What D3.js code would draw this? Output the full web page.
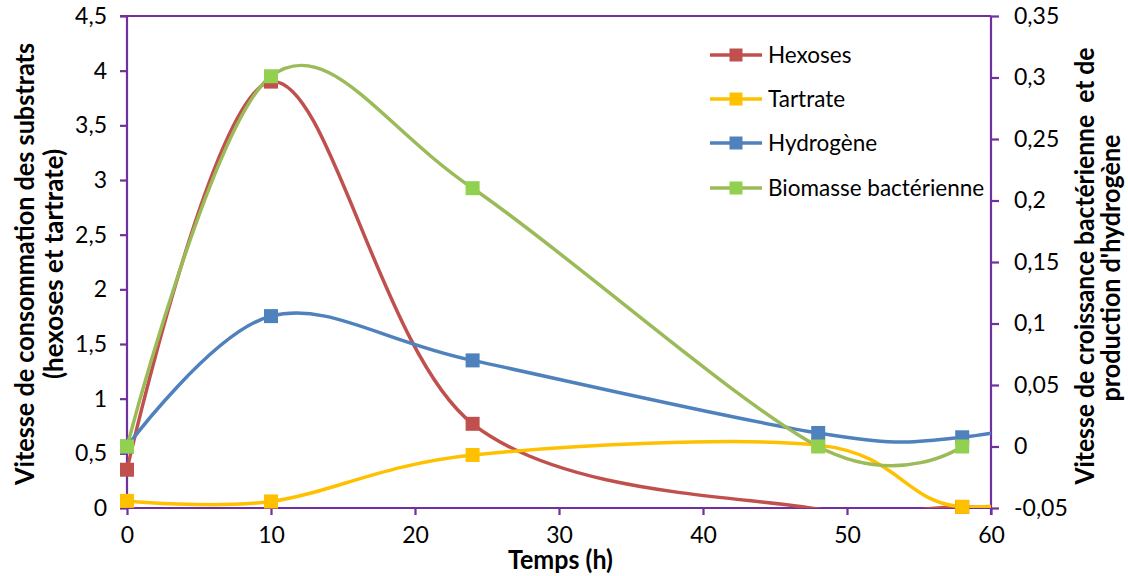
<!DOCTYPE html>
<html><head><meta charset="utf-8">
<script src="https://cdn.jsdelivr.net/npm/d3@7/dist/d3.min.js"></script>
<style>
html,body{margin:0;padding:0;background:#fff;}
svg{display:block;font-family:Lato,"Open Sans",sans-serif;}
</style></head>
<body><svg id="chart" width="1128" height="576"></svg>
<script>
// ---- data ----
const timeH = [0, 10, 24, 48, 58, 72];
const hexoses = [0.35, 3.9, 0.77, -0.01, 0.01, -0.05];
const tartrate = [0.065, 0.06, 0.485, 0.575, 0.01, 0.35];
const hydrogene = [0.0, 0.106, 0.070, 0.011, 0.0075, 0.04];
const timeBio = [0, 10, 24, 48, 58];
const biomasse = [0.0, 0.301, 0.210, 0.0, 0.0];
const seriesNames = ["Hexoses", "Tartrate", "Hydrogène", "Biomasse bactérienne"];
const xTicks = [0, 10, 20, 30, 40, 50, 60];
const yLeftTicks = [0, 0.5, 1, 1.5, 2, 2.5, 3, 3.5, 4, 4.5];
const yRightTicks = [-0.05, 0, 0.05, 0.1, 0.15, 0.2, 0.25, 0.3, 0.35];
const xTitle = "Temps (h)";
const yLeftTitle = ["Vitesse de consommation des substrats", "(hexoses et tartrate)"];
const yRightTitle = ["Vitesse de croissance bactérienne  et de", "production d'hydrogène"];

const svg = d3.select("#chart");
const L = 127, R = 991, T = 16, B = 508;
const axisColor = "#7030A0";
const x = d3.scaleLinear().domain([0, 60]).range([L, R]);
const yL = d3.scaleLinear().domain([0, 4.5]).range([B, T]);
const yR = d3.scaleLinear().domain([-0.05, 0.35]).range([B, T]);

const loc = d3.formatLocale({decimal: ",", thousands: " ", grouping: [3], currency: ["", ""], minus: "-"});
const fmt = loc.format(".2~f");

const series = [
  {name: seriesNames[0], xs: timeH, ys: hexoses, y: yL, line: "#C0504D", mark: "#C0504D"},
  {name: seriesNames[1], xs: timeH, ys: tartrate, y: yL, line: "#FFC000", mark: "#FFC000"},
  {name: seriesNames[2], xs: timeH, ys: hydrogene, y: yR, line: "#4F81BD", mark: "#4F81BD"},
  {name: seriesNames[3], xs: timeBio, ys: biomasse, y: yR, line: "#9BBB59", mark: "#92D050"}
];

svg.append("defs").append("clipPath").attr("id", "plotclip")
  .append("rect").attr("x", L).attr("y", T).attr("width", R - L).attr("height", B - T);

// top border
svg.append("line").attr("x1", L - 7).attr("x2", R).attr("y1", T).attr("y2", T)
  .attr("stroke", axisColor).attr("stroke-width", 2);

const fsTick = 23, fsLeg = 22.5, fsTitle = 26.5;
const gL = svg.append("g").attr("transform", `translate(${L},0)`)
  .call(d3.axisLeft(yL).tickValues(yLeftTicks).tickFormat(fmt).tickSize(7).tickPadding(13));
const gR = svg.append("g").attr("transform", `translate(${R},0)`)
  .call(d3.axisRight(yR).tickValues(yRightTicks).tickFormat(fmt).tickSize(8).tickPadding(15));
const gB = svg.append("g").attr("transform", `translate(0,${B})`)
  .call(d3.axisBottom(x).tickValues(xTicks).tickFormat(fmt).tickSize(7).tickPadding(12));
[gL, gR, gB].forEach(g => {
  g.select(".domain").attr("stroke", axisColor).attr("stroke-width", 2.2);
  g.selectAll(".tick line").attr("stroke", axisColor).attr("stroke-width", 2.2);
  g.selectAll(".tick text").attr("fill", "#000").attr("font-size", fsTick).attr("font-family", "Lato");
});
gL.select(".domain").attr("d", `M-7,${T}H0V${B}`);
gR.select(".domain").attr("d", `M0,${T}V${B + 7}`);
gB.select(".domain").attr("d", `M${L},0H${R}`);

// series
const plot = svg.append("g").attr("clip-path", "url(#plotclip)");
series.forEach(s => {
  const pts = s.xs.map((t, i) => [t, s.ys[i]]);
  const line = d3.line().x(d => x(d[0])).y(d => s.y(d[1])).curve(d3.curveCardinal.tension(0));
  plot.append("path").attr("d", line(pts)).attr("fill", "none")
    .attr("stroke", s.line).attr("stroke-width", 3.5).attr("stroke-linejoin", "round");
  const yd = s.y.domain(), xd = x.domain();
  const vis = pts.filter(d => d[0] >= xd[0] && d[0] <= xd[1] && d[1] >= yd[0] && d[1] <= yd[1]);
  const m = 14;
  svg.append("g").selectAll("rect").data(vis).join("rect")
    .attr("x", d => x(d[0]) - m / 2).attr("y", d => s.y(d[1]) - m / 2)
    .attr("width", m).attr("height", m).attr("fill", s.mark);
});

// legend
const legRows = [55, 99, 143, 188];
const lg = svg.append("g");
series.forEach((s, i) => {
  const yy = legRows[i];
  lg.append("line").attr("x1", 710).attr("x2", 762).attr("y1", yy).attr("y2", yy)
    .attr("stroke", s.line).attr("stroke-width", 3.5);
  lg.append("rect").attr("x", 736 - 6.5).attr("y", yy - 6.5).attr("width", 13).attr("height", 13).attr("fill", s.mark);
  lg.append("text").attr("x", 768).attr("y", yy).attr("dy", "0.35em")
    .attr("font-size", fsLeg).text(s.name);
});

// axis titles
svg.append("text").attr("x", 560.5).attr("y", 569).attr("text-anchor", "middle")
  .attr("font-size", fsTitle).attr("font-weight", "bold")
  .attr("textLength", 105).attr("lengthAdjust", "spacingAndGlyphs").text(xTitle);

function vTitle(bx, cy, len, txt) {
  svg.append("text").attr("transform", `translate(${bx},${cy}) rotate(-90)`)
    .attr("text-anchor", "middle")
    .attr("font-size", fsTitle).attr("font-weight", "bold").attr("xml:space", "preserve")
    .style("white-space", "pre")
    .attr("textLength", len).attr("lengthAdjust", "spacingAndGlyphs").text(txt);
}
vTitle(34, 264, 442, yLeftTitle[0]);
vTitle(63, 264, 230, yLeftTitle[1]);
vTitle(1094, 266, 437, yRightTitle[0]);
vTitle(1120, 268, 267, yRightTitle[1]);
</script></body></html>
